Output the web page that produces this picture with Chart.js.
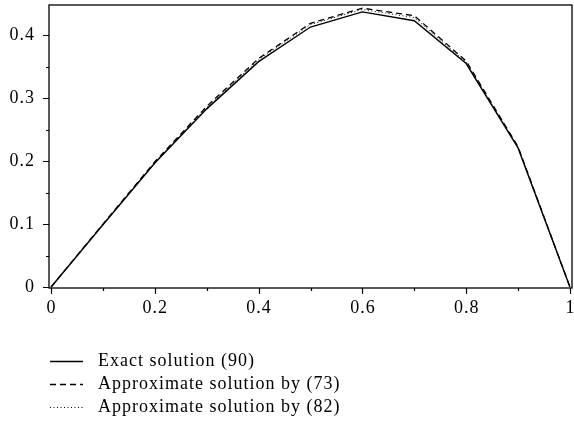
<!DOCTYPE html>
<html>
<head>
<meta charset="utf-8">
<script src="https://cdn.jsdelivr.net/npm/chart.js@4.4.1/dist/chart.umd.min.js"></script>
<style>
html,body{margin:0;padding:0;background:#fff;}
#wrap{width:574px;height:428px;}
</style>
</head>
<body>
<div id="wrap"><canvas id="c" width="574" height="428"></canvas></div>
<script>
const xValues = [0, 0.1, 0.2, 0.3, 0.4, 0.5, 0.6, 0.7, 0.8, 0.9, 1.0];
const exactSolution = [0, 0.099, 0.197, 0.283, 0.358, 0.413, 0.437, 0.423, 0.355, 0.221, 0];
const approx73 = [0, 0.100, 0.199, 0.287, 0.363, 0.419, 0.443, 0.431, 0.359, 0.223, 0];
const approx82 = [0, 0.100, 0.198, 0.285, 0.361, 0.417, 0.441, 0.428, 0.357, 0.222, 0];
const seriesLabels = ['Exact solution (90)', 'Approximate solution by (73)', 'Approximate solution by (82)'];
const xMajorTicks = [0, 0.2, 0.4, 0.6, 0.8, 1];
const xTickLabels = ['0', '0.2', '0.4', '0.6', '0.8', '1'];
const xMinorTicks = [0.1, 0.3, 0.5, 0.7, 0.9];
const yMajorTicks = [0, 0.1, 0.2, 0.3, 0.4];
const yTickLabels = ['0', '0.1', '0.2', '0.3', '0.4'];
const yMinorTicks = [0.05, 0.15, 0.25, 0.35];

const FONT = '"Liberation Serif", "Times New Roman", serif';
const dashes = [[], [6, 4], [1, 2.5]];

function pts(ys){ return xValues.map((x,i)=>({x:x,y:ys[i]})); }

function spacedText(ctx, txt, x, y, align){
  ctx.letterSpacing = '1px';
  let w = ctx.measureText(txt).width;
  let sx = x;
  if (align === 'center') sx = x - w/2;
  else if (align === 'right') sx = x - w;
  ctx.textAlign = 'left';
  ctx.fillText(txt, sx, y);
  ctx.letterSpacing = '0px';
}

const frame = {
  id:'frame',
  afterDraw(chart){
    const ctx = chart.ctx, a = chart.chartArea;
    const xs = chart.scales.x, ys = chart.scales.y;
    ctx.save();
    ctx.strokeStyle = '#000';
    ctx.lineWidth = 1.3;
    ctx.strokeRect(a.left, a.top, a.right - a.left, a.bottom - a.top);
    ctx.lineWidth = 1.2;
    ctx.beginPath();
    xMajorTicks.forEach(v=>{const p = Math.round(xs.getPixelForValue(v))+0.5; ctx.moveTo(p,a.bottom); ctx.lineTo(p,a.bottom+6);});
    xMinorTicks.forEach(v=>{const p = Math.round(xs.getPixelForValue(v))+0.5; ctx.moveTo(p,a.bottom); ctx.lineTo(p,a.bottom+3);});
    yMajorTicks.forEach(v=>{const p = Math.round(ys.getPixelForValue(v))+0.5; ctx.moveTo(a.left,p); ctx.lineTo(a.left-6,p);});
    yMinorTicks.forEach(v=>{const p = Math.round(ys.getPixelForValue(v))+0.5; ctx.moveTo(a.left,p); ctx.lineTo(a.left-3,p);});
    ctx.stroke();
    ctx.font = '18px ' + FONT;
    ctx.fillStyle = '#000';
    ctx.textBaseline = 'middle';
    xMajorTicks.forEach((v,i)=>{ spacedText(ctx, xTickLabels[i], xs.getPixelForValue(v)+0.5, 308, 'center'); });
    yMajorTicks.forEach((v,i)=>{ spacedText(ctx, yTickLabels[i], 35, ys.getPixelForValue(v), 'right'); });
    // legend
    const rowsY = [361, 384, 407];
    chart.data.datasets.forEach((ds,i)=>{
      const y = rowsY[i] + 0.5;
      ctx.setLineDash(dashes[i]);
      ctx.lineWidth = i===2 ? 1 : 1.3;
      ctx.beginPath(); ctx.moveTo(50,y); ctx.lineTo(83,y); ctx.stroke();
      ctx.setLineDash([]);
      spacedText(ctx, ds.label, 98, rowsY[i], 'left');
    });
    ctx.restore();
  }
};

new Chart(document.getElementById('c'), {
  type:'scatter',
  data:{
    datasets:[
      {label:seriesLabels[0], data:pts(exactSolution), showLine:true, borderColor:'#000', borderWidth:1.4, pointRadius:0, borderDash:dashes[0]},
      {label:seriesLabels[1], data:pts(approx73), showLine:true, borderColor:'#000', borderWidth:1.3, pointRadius:0, borderDash:dashes[1]},
      {label:seriesLabels[2], data:pts(approx82), showLine:true, borderColor:'#000', borderWidth:1, pointRadius:0, borderDash:dashes[2]}
    ]
  },
  options:{
    responsive:false,
    animation:false,
    layout:{padding:{top:5,right:2,left:49,bottom:140}},
    plugins:{legend:{display:false}, tooltip:{enabled:false}},
    scales:{
      x:{
        type:'linear', min:-0.004, max:1.004, display:false,
        afterBuildTicks(s){ s.ticks = xMajorTicks.map(v=>({value:v})); }
      },
      y:{
        type:'linear', min:-0.0016, max:0.448, display:false,
        afterBuildTicks(s){ s.ticks = yMajorTicks.map(v=>({value:v})); }
      }
    }
  },
  plugins:[frame]
});
</script>
</body>
</html>
